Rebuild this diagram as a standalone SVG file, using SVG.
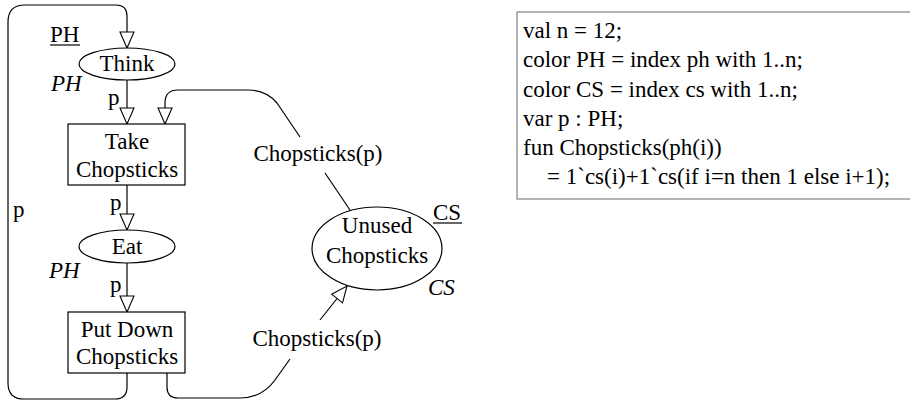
<svg xmlns="http://www.w3.org/2000/svg" width="910" height="403" viewBox="0 0 910 403" font-family="'Liberation Serif', 'Times New Roman', 'DejaVu Serif', serif">
<style>
text{font-family:'Liberation Serif','Times New Roman','DejaVu Serif',serif;font-size:23px;fill:#000}
.c{text-anchor:middle}
.i{font-style:italic}
.n{fill:#fff;stroke:#000;stroke-width:1.2}
.e{fill:none;stroke:#000;stroke-width:1.2}
.u{stroke:#000;stroke-width:1.2}
</style>
<defs>
<marker id="ah" viewBox="0 0 18 16" refX="17" refY="8" markerWidth="18" markerHeight="16" markerUnits="userSpaceOnUse" orient="auto">
<path d="M1,1 L17,8 L1,15 Z" fill="#fff" stroke="#000" stroke-width="1.1"/>
</marker>
</defs>
<rect width="910" height="403" fill="#fff"/>
<g id="connectors">
<path class="e" d="M127,373 L127,387 Q127,399 115,399 L24,399 Q8,399 8,383 L8,22 Q8,5 25,5 L116,5 Q127,5 127,16 L127,48" marker-end="url(#ah)"/>
<path class="e" d="M127,80 L127,124" marker-end="url(#ah)"/>
<path class="e" d="M127,185 L127,230" marker-end="url(#ah)"/>
<path class="e" d="M127,263 L127,312" marker-end="url(#ah)"/>
<path class="e" d="M350,210 L325,173"/>
<path class="e" d="M300,137 L277,103 Q266,90 248,90 L178,90 Q165,90 165,103 L165,124" marker-end="url(#ah)"/>
<path class="e" d="M167,373 L167,387 Q167,398 178,398 L240,398 Q262,398 275,380 L290,359"/>
<path class="e" d="M320,320 L347,286" marker-end="url(#ah)"/>
<text class="c" x="318" y="161">Chopsticks(p)</text>
<text class="c" x="317" y="346">Chopsticks(p)</text>
<text x="108" y="105">p</text>
<text x="110" y="210">p</text>
<text x="110" y="292">p</text>
<text x="13" y="217">p</text>
</g>
<g id="think">
<ellipse class="n" cx="127" cy="64" rx="48" ry="16"/>
<text class="c" x="127" y="71">Think</text>
<text x="50" y="42">PH</text>
<line class="u" x1="50" y1="45" x2="80" y2="45"/>
<text class="i" x="51" y="91">PH</text>
</g>
<g id="take">
<rect class="n" x="68" y="124" width="117" height="61"/>
<text class="c" x="127" y="149">Take</text>
<text class="c" x="127" y="177">Chopsticks</text>
</g>
<g id="eat">
<ellipse class="n" cx="127" cy="246.5" rx="48" ry="16.5"/>
<text class="c" x="127" y="254">Eat</text>
<text class="i" x="49" y="278">PH</text>
</g>
<g id="putdown">
<rect class="n" x="68" y="312" width="117" height="61"/>
<text class="c" x="127" y="337">Put Down</text>
<text class="c" x="127" y="364">Chopsticks</text>
</g>
<g id="unused">
<ellipse class="n" cx="377" cy="248.5" rx="65" ry="41.5"/>
<text class="c" x="377" y="233">Unused</text>
<text class="c" x="377" y="263">Chopsticks</text>
<text x="433" y="220">CS</text>
<line class="u" x1="433" y1="223" x2="462" y2="223"/>
<text class="i" x="428" y="295">CS</text>
</g>
<g id="declarations">
<rect x="517" y="12" width="400" height="187" fill="#fff" stroke="#808080" stroke-width="1.2"/>
<text x="523" y="38">val n = 12;</text>
<text x="523" y="67">color PH = index ph with 1..n;</text>
<text x="523" y="96.5">color CS = index cs with 1..n;</text>
<text x="523" y="126">var p : PH;</text>
<text x="523" y="155">fun Chopsticks(ph(i))</text>
<text x="547" y="184">= 1`cs(i)+1`cs(if i=n then 1 else i+1);</text>
</g>
</svg>
